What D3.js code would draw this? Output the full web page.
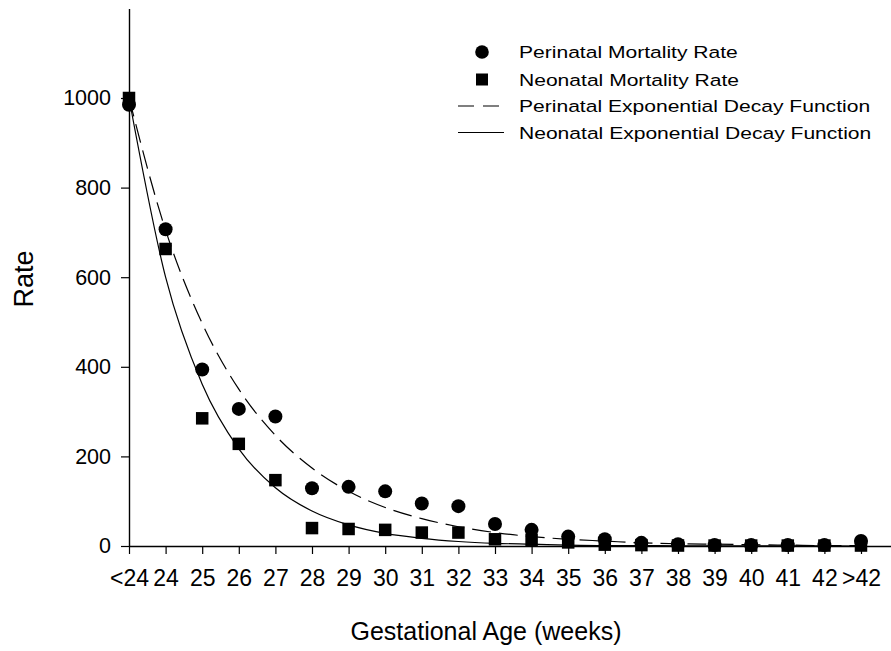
<!DOCTYPE html>
<html>
<head>
<meta charset="utf-8">
<script src="https://cdn.jsdelivr.net/npm/d3@7"></script>
<style>
  html, body { margin: 0; padding: 0; background: #fff; }
  svg { display: block; font-family: "Liberation Sans", Arial, sans-serif; }
</style>
</head>
<body>
<svg id="chart" width="891" height="651"></svg>
<script>
// ---- data ----
const categories = ["<24","24","25","26","27","28","29","30","31","32","33","34","35","36","37","38","39","40","41","42",">42"];
const perinatalRate = [985, 707, 394, 306, 289, 129, 132, 122, 95, 89, 49, 36, 21, 15, 7, 4, 2, 2, 2, 2, 11];
const neonatalRate  = [1000, 663, 285, 228, 147, 40, 38, 36, 30, 30, 15, 14, 8, 3, 2, 1, 1, 1, 1, 1, 1];
const perinatalFit  = [1000, 705, 497, 350, 247, 174, 122, 86, 61, 43, 30, 21, 15, 11, 7, 5, 4, 3, 2, 1, 1];
const neonatalFit   = [1000, 600, 361, 217, 130, 78, 47, 28, 17, 10, 6, 4, 2, 1, 1, 0.5, 0.3, 0.2, 0.1, 0.1, 0];
const yTicks = [0, 200, 400, 600, 800, 1000];
const legendLabels = ["Perinatal Mortality Rate", "Neonatal Mortality Rate", "Perinatal Exponential Decay Function", "Neonatal Exponential Decay Function"];

// ---- layout ----
const svg = d3.select("#chart");
const x = d3.scaleLinear().domain([0, 20.82]).range([129, 891]);
const y = d3.scaleLinear().domain([0, 1200]).range([546, 8.4]);

// axes
const xAxis = d3.axisBottom(x)
  .tickValues(d3.range(categories.length))
  .tickFormat(i => categories[i])
  .tickSizeInner(8).tickSizeOuter(0).tickPadding(16);
const gx = svg.append("g").attr("transform", `translate(0,${y(0)})`).call(xAxis);

const yAxis = d3.axisLeft(y)
  .tickValues(yTicks)
  .tickFormat(d3.format("d"))
  .tickSizeInner(8).tickSizeOuter(0).tickPadding(10);
const gy = svg.append("g").attr("transform", `translate(${x(0)},0)`).call(yAxis);

[gx, gy].forEach(g => {
  g.attr("font-family", "'Liberation Sans', Arial, sans-serif");
  g.selectAll("path.domain").attr("stroke", "#000").attr("stroke-width", 1.4);
  g.selectAll(".tick line").attr("stroke", "#000").attr("stroke-width", 1.2);
  g.selectAll(".tick text").attr("fill", "#000");
});
gx.attr("font-size", 23);
gy.attr("font-size", 21.5);

// curves
const lineGen = d3.line().x((d, i) => x(i)).y(d => y(d)).curve(d3.curveMonotoneX);
svg.append("path").datum(perinatalFit).attr("d", lineGen)
  .attr("fill", "none").attr("stroke", "#000").attr("stroke-width", 1.2)
  .attr("stroke-dasharray", "19,8");
svg.append("path").datum(neonatalFit).attr("d", lineGen)
  .attr("fill", "none").attr("stroke", "#000").attr("stroke-width", 1.2);

// markers
const sq = 12.5;
svg.append("g").selectAll("rect").data(neonatalRate).join("rect")
  .attr("x", (d, i) => x(i) - sq / 2).attr("y", d => y(d) - sq / 2)
  .attr("width", sq).attr("height", sq).attr("fill", "#000");
svg.append("g").selectAll("circle").data(perinatalRate).join("circle")
  .attr("cx", (d, i) => x(i)).attr("cy", d => y(d)).attr("r", 7).attr("fill", "#000");

// axis titles
svg.append("text").attr("x", 486).attr("y", 640).attr("text-anchor", "middle")
  .style("font-size", "25px").attr("fill", "#000").text("Gestational Age (weeks)");
svg.append("text").attr("transform", "translate(33,279) rotate(-90)").attr("text-anchor", "middle")
  .style("font-size", "27px").attr("fill", "#000").text("Rate");

// legend
const leg = svg.append("g");
const rowY = [52, 79.5, 106, 132.5];
leg.append("circle").attr("cx", 482).attr("cy", rowY[0]).attr("r", 6.8).attr("fill", "#000");
leg.append("rect").attr("x", 482 - 6).attr("y", rowY[1] - 6).attr("width", 12).attr("height", 12).attr("fill", "#000");
leg.append("line").attr("x1", 458).attr("x2", 504).attr("y1", rowY[2]).attr("y2", rowY[2])
  .attr("stroke", "#000").attr("stroke-width", 1.2).attr("stroke-dasharray", "16,9");
leg.append("line").attr("x1", 458).attr("x2", 504).attr("y1", rowY[3]).attr("y2", rowY[3])
  .attr("stroke", "#000").attr("stroke-width", 1.2);
legendLabels.forEach((t, i) => {
  leg.append("text")
    .attr("transform", `translate(519,${rowY[i] + 6.2}) scale(1.24,1)`)
    .style("font-size", "17px").attr("fill", "#000").text(t);
});
</script>
</body>
</html>
